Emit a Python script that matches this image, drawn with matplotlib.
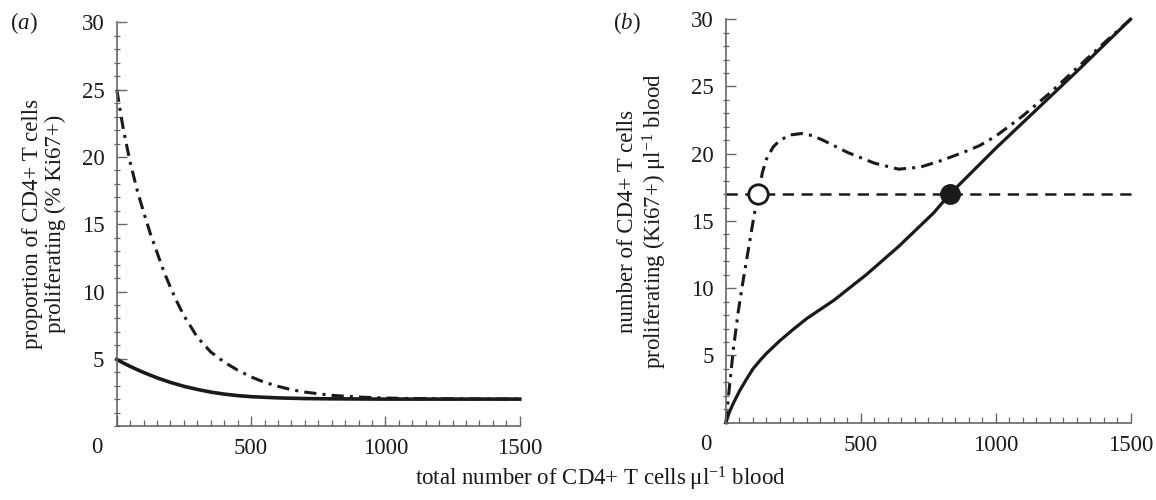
import numpy as np
import matplotlib
matplotlib.use('Agg')
import matplotlib.pyplot as plt
from matplotlib.ticker import MultipleLocator, FixedLocator, NullFormatter

plt.rcParams['font.family'] = ['Liberation Serif', 'DejaVu Serif']
plt.rcParams['mathtext.fontset'] = 'custom'
plt.rcParams['mathtext.rm'] = 'Liberation Serif'
plt.rcParams['mathtext.it'] = 'Liberation Serif:italic'

# (a) proportion proliferating (% Ki67+) vs total CD4+ T cells per ul
a_solid_x = [0, 25, 50, 75, 100, 125, 150, 200, 250, 300, 350, 400, 450, 500, 600, 700, 800, 1000, 1500]
a_solid_y = [4.95, 4.68, 4.43, 4.2, 3.98, 3.78, 3.58, 3.24, 2.95, 2.72, 2.52, 2.37, 2.26, 2.18, 2.09, 2.04,
             2.02, 2.0, 2.0]

a_dash_x = [0, 25, 50, 75, 100, 125, 150, 175, 200, 225, 250, 275, 300, 350, 400, 450, 500, 550, 600,
            650, 700, 800, 900, 1000, 1100, 1200, 1500]
a_dash_y = [25.0, 22.0, 19.6, 17.6, 15.9, 14.3, 12.9, 11.5, 10.3, 9.2, 8.2, 7.4, 6.6, 5.5, 4.75, 4.15,
            3.65, 3.25, 2.95, 2.7, 2.52, 2.28, 2.15, 2.08, 2.04, 2.02, 2.0]

# (b) number proliferating per ul blood
b_solid_x = [0, 10, 25, 50, 75, 100, 125, 150, 200, 250, 300, 400, 520, 640, 770, 830, 1000, 1100,
             1200, 1300, 1400, 1500]
b_solid_y = [0, 0.65, 1.35, 2.35, 3.2, 4.0, 4.6, 5.15, 6.1, 6.95, 7.75, 9.1, 11.0, 13.1, 15.6, 17.0,
             20.4, 22.3, 24.2, 26.1, 28.05, 30.0]

b_dash_x = [0, 10, 27, 45, 64, 89, 105, 120, 135, 150, 175, 200, 240, 280, 320, 360, 450, 550,
            640, 720, 800, 880, 940, 1000, 1100, 1200, 1300, 1400, 1500]
b_dash_y = [0, 2.1, 5.4, 8.2, 10.6, 13.6, 15.5, 17.0, 18.6, 19.6, 20.5, 21.0, 21.4, 21.5, 21.35, 21.0,
            20.1, 19.3, 18.85, 19.0, 19.5, 20.1, 20.6, 21.3, 22.8, 24.5, 26.35, 28.2, 30.0]

threshold = 17
open_pt = (120, 17)
filled_pt = (830, 17)

ink = '#1a1a1a'
axis_col = '#666666'
dashdot = (0, (4, 2, 1, 2))

fig = plt.figure(figsize=(11.56, 5.0), dpi=100)
ax_a = fig.add_axes([0.101, 0.148, 0.3486, 0.807])
ax_b = fig.add_axes([0.628, 0.1546, 0.350, 0.807])


def style_axis(ax):
    ax.set_xlim(0, 1500)
    ax.set_ylim(0, 30)
    for s in ['top', 'right']:
        ax.spines[s].set_visible(False)
    for s in ['left', 'bottom']:
        ax.spines[s].set_color(axis_col)
        ax.spines[s].set_linewidth(1.2)
    ax.xaxis.set_major_locator(FixedLocator([0, 500, 1000, 1500]))
    ax.set_xticklabels(['', '500', '1000', '1500'])
    ax.xaxis.set_minor_locator(MultipleLocator(50))
    ax.yaxis.set_major_locator(FixedLocator([5, 10, 15, 20, 25, 30]))
    ax.yaxis.set_minor_locator(MultipleLocator(1))
    ax.yaxis.set_minor_formatter(NullFormatter())
    ax.tick_params(axis='both', which='major', direction='in', length=7, width=1.0,
                   color=axis_col, labelsize=16.5, labelcolor=ink)
    ax.tick_params(axis='x', which='major', pad=9)
    ax.tick_params(axis='y', which='major', pad=9)
    ax.tick_params(axis='both', which='minor', direction='inout', length=4, width=0.9,
                   color=axis_col)
    ax.tick_params(axis='x', which='minor', direction='in', length=4)
    ax.annotate('0', xy=(0, 0), xycoords='axes fraction', xytext=(-20, -11),
                textcoords='offset pixels', ha='center', va='top', fontsize=16.5, color=ink)


style_axis(ax_a)
style_axis(ax_b)

ax_a.plot(a_dash_x, a_dash_y, color=ink, lw=2.2, linestyle=dashdot)
ax_a.plot(a_solid_x, a_solid_y, color=ink, lw=2.6)

ax_b.axhline(threshold, color=ink, lw=1.8, linestyle=(0, (4.5, 3)))
ax_b.plot(b_dash_x, b_dash_y, color=ink, lw=2.2, linestyle=dashdot)
ax_b.plot(b_solid_x, b_solid_y, color=ink, lw=2.3)
ax_b.plot(*open_pt, marker='o', ms=14, mfc='white', mec=ink, mew=2, zorder=5)
ax_b.plot(*filled_pt, marker='o', ms=14, mfc=ink, mec=ink, zorder=5)

for ax in (ax_a, ax_b):
    for ln in ax.lines:
        ln.set_clip_on(False)

fig.text(24 / 1156, 1 - 23 / 500, r'($\mathit{a}$)', fontsize=16.5, ha='center', va='center', color=ink)
fig.text(627 / 1156, 1 - 23 / 500, r'($\mathit{b}$)', fontsize=16.5, ha='center', va='center', color=ink)

fig.text(44 / 1156, 1 - 224 / 500, 'proportion of CD4+ T cells\nproliferating (% Ki67+)',
         rotation=90, ha='center', va='center', multialignment='center',
         fontsize=16.5, linespacing=1.15, color=ink)
fig.text(643 / 1156, 1 - 221 / 500, 'number of CD4+ T cells\nproliferating (Ki67+) μl$^{-1}$ blood',
         rotation=90, ha='center', va='center', multialignment='center',
         fontsize=16.5, linespacing=1.15, color=ink)

fig.text(600 / 1156, 1 - 479 / 500, 'total number of CD4+ T cells\u2009μl$^{-1}$ blood',
         ha='center', va='center', fontsize=16.5, color=ink)

fig.savefig('out.png', dpi=100)
